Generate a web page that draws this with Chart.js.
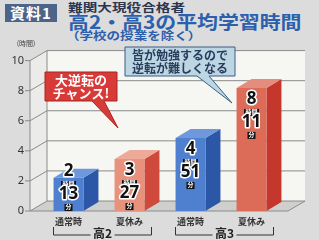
<!DOCTYPE html>
<html>
<head>
<meta charset="utf-8">
<script src="https://cdn.jsdelivr.net/npm/chart.js@4/dist/chart.umd.min.js"></script>
<style>
  body { margin:0; width:319px; height:240px; overflow:hidden; position:relative; background:#dcdcdc; font-family:"Noto Sans CJK JP", sans-serif; }
  .hd { position:absolute; white-space:nowrap; font-weight:bold; transform-origin:left top; }
  #badge { left:5px; top:4px; width:52px; height:18px; background:#4d6489; color:#fff; font-size:15px; line-height:18px; text-align:center; letter-spacing:1px; }
  #t1 { left:68px; top:1px; font-size:11px; line-height:12px; color:#2a3550; transform:scaleX(1.33); }
  #t2 { left:68px; top:12px; font-size:18px; line-height:18px; color:#2c5fae; transform:scaleX(1.16); }
  #t3 { left:66px; top:30px; font-size:11px; line-height:11px; color:#2c5fae; transform:scaleX(1.23); }
  #wrap { position:absolute; left:0; top:40px; width:319px; height:200px; }
</style>
</head>
<body>
<div id="badge" class="hd">資料1</div>
<div id="t1" class="hd">難関大現役合格者</div>
<div id="t2" class="hd">高2・高3の平均学習時間</div>
<div id="t3" class="hd">（学校の授業を除く）</div>
<div id="wrap"><canvas id="studyChart" width="319" height="200"></canvas></div>
<script>
"use strict";

const categories = ['通常時', '夏休み', '通常時', '夏休み'];
const groups = ['高2', '高3'];
const hours = [2, 3, 4, 8];
const minutes = [13, 27, 51, 11];
const studyTime = hours.map((h, i) => h + minutes[i] / 60);

const frontColors = ['#4f7fcf', '#e8917c', '#4f7fcf', '#dc6c58'];
const sideColors = ['#2c56a6', '#cf4a3c', '#2c56a6', '#c5362d'];
const topColors = ['#6f98dc', '#eeaa99', '#6f98dc', '#e58d7c'];

const outlined = (ctx, text, x, y, font) => {
  ctx.font = font;
  ctx.lineJoin = 'round';
  ctx.lineWidth = 3;
  ctx.strokeStyle = '#fff';
  ctx.strokeText(text, x, y);
  ctx.fillStyle = '#111';
  ctx.fillText(text, x, y);
};

const smallTag = (ctx, text, x, y, w) => {
  ctx.fillStyle = '#111';
  ctx.fillRect(x - w / 2, y, w, 7);
  ctx.fillStyle = '#fff';
  ctx.font = 'bold 6px "Noto Sans CJK JP"';
  ctx.fillText(text, x, y);
};

const callout = (ctx, x, y, w, h, tail, fill, stroke, color, lines, font) => {
  ctx.fillStyle = fill;
  ctx.strokeStyle = stroke;
  ctx.lineWidth = 1;
  ctx.beginPath();
  ctx.moveTo(x, y);
  ctx.lineTo(x + w, y);
  ctx.lineTo(x + w, y + h);
  ctx.lineTo(tail[1], y + h);
  ctx.lineTo(tail[2], tail[3]);
  ctx.lineTo(tail[0], y + h);
  ctx.lineTo(x, y + h);
  ctx.closePath();
  ctx.fill();
  ctx.stroke();
  ctx.fillStyle = color;
  ctx.font = font;
  ctx.textAlign = 'center';
  ctx.textBaseline = 'top';
  lines.forEach((l, i) => ctx.fillText(l, x + w / 2, y + 2 + i * 13));
};

const threeD = {
  id: 'threeD',
  beforeDatasetsDraw(chart) {
    const ctx = chart.ctx;
    const a = chart.chartArea;
    const ys = chart.scales.y;
    const ax = a.left - 8, dx = 17, dy = 10;
    const backL = ax + dx, backR = a.right + 23, frontR = a.right + 6;
    const top = ys.getPixelForValue(10), bot = ys.getPixelForValue(0);
    ctx.save();
    ctx.fillStyle = '#f6f6f3';
    ctx.fillRect(backL, top - dy, backR - backL, bot - top);
    ctx.fillStyle = '#ebebea';
    ctx.beginPath();
    ctx.moveTo(ax, top); ctx.lineTo(backL, top - dy); ctx.lineTo(backL, bot - dy); ctx.lineTo(ax, bot);
    ctx.closePath(); ctx.fill();
    ctx.fillStyle = '#cfcfcd';
    ctx.beginPath();
    ctx.moveTo(ax, bot); ctx.lineTo(frontR, bot); ctx.lineTo(backR, bot - dy); ctx.lineTo(backL, bot - dy);
    ctx.closePath(); ctx.fill();
    ctx.strokeStyle = '#8a8a8a';
    ctx.lineWidth = 1;
    for (let v = 0; v <= 10; v += 2) {
      const y = ys.getPixelForValue(v);
      ctx.beginPath();
      ctx.moveTo(ax - 5, y); ctx.lineTo(ax, y); ctx.lineTo(backL, y - dy); ctx.lineTo(backR, y - dy);
      ctx.stroke();
    }
    ctx.beginPath();
    ctx.moveTo(ax, top); ctx.lineTo(ax, bot); ctx.lineTo(frontR, bot); ctx.lineTo(backR, bot - dy);
    ctx.moveTo(backL, top - dy); ctx.lineTo(backL, bot - dy);
    ctx.stroke();

    const bdx = 15, bdy = 9;
    chart.getDatasetMeta(0).data.forEach((bar, i) => {
      const l = bar.x - bar.width / 2, r = bar.x + bar.width / 2;
      ctx.fillStyle = sideColors[i];
      ctx.beginPath();
      ctx.moveTo(r, bar.y); ctx.lineTo(r + bdx, bar.y - bdy); ctx.lineTo(r + bdx, bar.base - bdy); ctx.lineTo(r, bar.base);
      ctx.closePath(); ctx.fill();
      ctx.fillStyle = topColors[i];
      ctx.beginPath();
      ctx.moveTo(l, bar.y); ctx.lineTo(l + bdx, bar.y - bdy); ctx.lineTo(r + bdx, bar.y - bdy); ctx.lineTo(r, bar.y);
      ctx.closePath(); ctx.fill();
    });
    ctx.restore();
  },
  afterDatasetsDraw(chart) {
    const ctx = chart.ctx;
    const a = chart.chartArea;
    const bars = chart.getDatasetMeta(0).data;
    ctx.save();
    ctx.textAlign = 'center';
    ctx.textBaseline = 'top';
    bars.forEach((bar, i) => {
      const t = Math.min(bar.y + 5, a.bottom - 46);
      outlined(ctx, String(hours[i]), bar.x, t - 2, 'bold 17px "Noto Sans"');
      smallTag(ctx, '時間', bar.x, t + 16, 15);
      outlined(ctx, String(minutes[i]), bar.x, t + 21, 'bold 17px "Noto Sans"');
      smallTag(ctx, '分', bar.x, t + 39, 8);
    });

    ctx.fillStyle = '#444';
    ctx.font = '7px "Noto Sans CJK JP"';
    ctx.fillText('(時間)', 26, 0);

    callout(ctx, 45, 32, 72, 29, [92, 104, 118, 88], '#d83a38', '#a82424', '#fff',
      ['大逆転の', 'チャンス!'], 'bold 13px "Noto Sans CJK JP"');
    callout(ctx, 125, 7, 110, 29, [197, 209, 232, 63], '#bcd7e3', '#3a5f80', '#2a3c5c',
      ['皆が勉強するので', '逆転が難しくなる'], 'bold 12px "Noto Sans CJK JP"');

    ctx.strokeStyle = '#333';
    ctx.lineWidth = 1;
    groups.forEach((g, gi) => {
      const x0 = bars[gi * 2].x - 15, x1 = bars[gi * 2 + 1].x + 22;
      const cx = (x0 + x1) / 2, yb = 195;
      ctx.beginPath();
      ctx.moveTo(x0, 187); ctx.lineTo(x0, yb); ctx.lineTo(cx - 12, yb);
      ctx.moveTo(cx + 12, yb); ctx.lineTo(x1, yb); ctx.lineTo(x1, 187);
      ctx.stroke();
      ctx.fillStyle = '#222';
      ctx.font = 'bold 12px "Noto Sans CJK JP"';
      ctx.textBaseline = 'middle';
      ctx.fillText(g, cx, yb - 2);
      ctx.textBaseline = 'top';
    });
    ctx.restore();
  }
};

const ctx = document.getElementById('studyChart').getContext('2d');
const studyChart = new Chart(ctx, {
  type: 'bar',
  data: {
    labels: categories,
    datasets: [{
      data: studyTime,
      backgroundColor: frontColors,
      borderWidth: 0,
      barPercentage: 0.49,
      categoryPercentage: 1
    }]
  },
  options: {
    responsive: false,
    animation: false,
    devicePixelRatio: 1,
    layout: { padding: { top: 15, right: 37, left: 0, bottom: 0 } },
    plugins: { legend: { display: false }, tooltip: { enabled: false } },
    scales: {
      y: {
        min: 0,
        max: 10,
        ticks: { stepSize: 2, padding: 14, color: '#333', font: { size: 11, family: 'Noto Sans' } },
        grid: { display: false, drawTicks: false },
        border: { display: false },
        afterFit(s) { s.width = 38; }
      },
      x: {
        ticks: { padding: 5, color: '#333', font: { size: 9, weight: 'bold', family: 'Noto Sans CJK JP' } },
        grid: { display: false, drawTicks: false },
        border: { display: false },
        afterFit(s) { s.height = 29; }
      }
    }
  },
  plugins: [threeD]
});
</script>
</body>
</html>
